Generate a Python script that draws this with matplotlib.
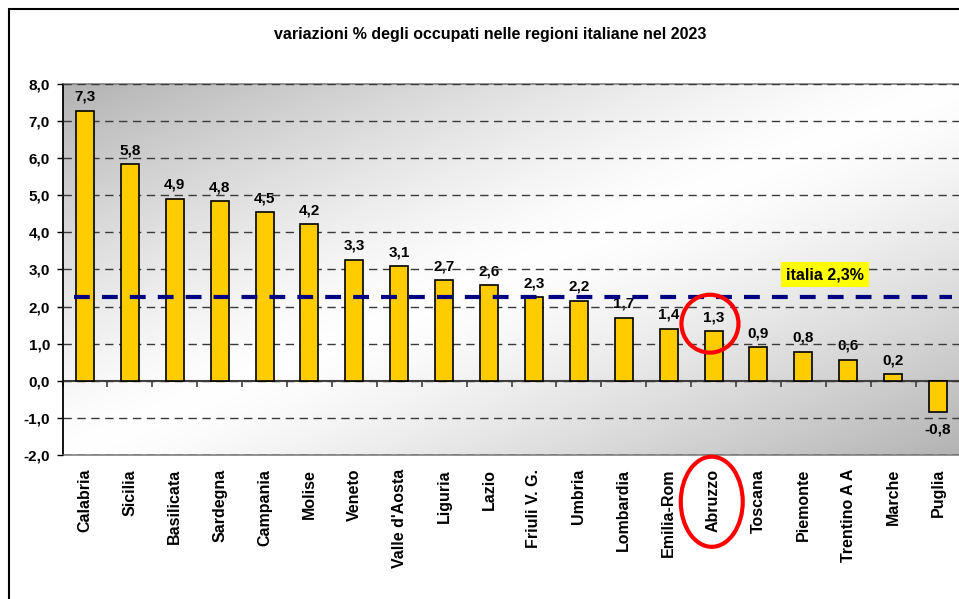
import numpy as np
import matplotlib
matplotlib.use("Agg")
from matplotlib import pyplot as plt
from matplotlib.patches import Ellipse, Rectangle
from matplotlib.ticker import FuncFormatter

# data
regioni = ['Calabria', 'Sicilia', 'Basilicata', 'Sardegna', 'Campania', 'Molise',
           'Veneto', "Valle d'Aosta", 'Liguria', 'Lazio', 'Friuli V. G.', 'Umbria',
           'Lombardia', 'Emilia-Rom', 'Abruzzo', 'Toscana', 'Piemonte',
           'Trentino A A', 'Marche', 'Puglia']
variazioni = [7.28, 5.84, 4.91, 4.84, 4.54, 4.22, 3.26, 3.09, 2.71, 2.57,
              2.26, 2.16, 1.70, 1.40, 1.34, 0.90, 0.78, 0.57, 0.18, -0.83]
italia = 2.27
italia_label = 'italia 2,3%'
evidenziata = 'Abruzzo'

plt.rcParams['font.family'] = ['Liberation Sans', 'DejaVu Sans']
plt.rcParams['font.weight'] = 'bold'

fig = plt.figure(figsize=(9.59, 5.99), dpi=100)
ax = fig.add_axes([62.5 / 959, 1 - 455 / 599, 898 / 959, 371 / 599])

# background gradient: dark top-left and bottom-right, light across the middle
u, v = np.meshgrid(np.linspace(0, 1, 400), np.linspace(0, 1, 200))
t = np.abs((u + v) / 2 - 0.5) * 2
g = 1 - 0.30 * t ** 1.3
ax.imshow(np.dstack([g, g, g]), extent=[0, 1, 0, 1], origin='upper',
          transform=ax.transAxes, aspect='auto', zorder=0, interpolation='bilinear')

x = np.arange(len(regioni))
ax.set_xlim(-0.5, len(regioni) - 0.5)
ax.set_ylim(-2, 8)

# gridlines
ax.set_yticks(np.arange(-2, 9, 1))
ax.yaxis.grid(True, color='#3a3a3a', lw=1, linestyle=(0, (6, 4)))
ax.set_axisbelow(False)
for gl in ax.get_ygridlines():
    gl.set_zorder(2)

ax.bar(x, variazioni, width=0.40, color='#FFCC00', edgecolor='black', lw=1.2, zorder=3)

for xi, val in zip(x, variazioni):
    lab = f'{val:.1f}'.replace('.', ',')
    if val >= 0:
        ax.annotate(lab, (xi, val), xytext=(0, 5), textcoords='offset points',
                    ha='center', va='bottom', fontsize=11, fontweight='bold', zorder=1.5)
    else:
        ax.annotate(lab, (xi, val), xytext=(0, -8), textcoords='offset points',
                    ha='center', va='top', fontsize=11, fontweight='bold', zorder=1.5)

# media italia
ax.plot([-0.245, len(regioni) - 0.69], [italia, italia], color='#000080', lw=3,
        dashes=(3.8, 2.9), zorder=4, dash_capstyle='butt')
ax.text(16.48, 2.86, italia_label, ha='center', va='center', fontsize=11.5,
        fontweight='bold', zorder=5,
        bbox=dict(boxstyle='square,pad=0.3', facecolor='#FFFF00', edgecolor='none'))

# spines
ax.spines['right'].set_visible(False)
ax.spines['left'].set_color('black')
ax.spines['left'].set_linewidth(1.3)
ax.spines['top'].set_color('#808080')
ax.spines['bottom'].set_color('#808080')
ax.spines['top'].set_linewidth(1.2)
ax.spines['bottom'].set_linewidth(1.2)

ax.yaxis.set_major_formatter(FuncFormatter(lambda v, p: f'{v:.1f}'.replace('.', ',')))
ax.tick_params(axis='y', length=4, width=1, direction='out', pad=5, labelsize=11)
ax.set_xticks(x)
ax.set_xticklabels(regioni, rotation=90, fontsize=11.5, fontweight='bold')
ax.tick_params(axis='x', length=0, pad=10)

# category axis at zero with boundary ticks
sec = ax.secondary_xaxis(0.2)
sec.set_xticks(np.arange(-0.5, len(regioni), 1))
sec.set_xticklabels([])
sec.tick_params(length=4, width=1.2, direction='out', color='#404040')
sec.spines['bottom'].set_color('#404040')
sec.spines['bottom'].set_linewidth(1.5)

# highlight
idx = regioni.index(evidenziata)
ax.add_patch(Ellipse((idx - 0.08, 1.54), 1.27, 1.56, fill=False, edgecolor='red',
                     lw=3, zorder=6, clip_on=False))
ax.add_patch(Ellipse((idx - 0.04, -3.26), 1.38, 2.43, fill=False, edgecolor='red',
                     lw=3, zorder=6, clip_on=False))

fig.text(0.511, 1 - 35 / 599, 'variazioni % degli occupati nelle regioni italiane nel 2023',
         ha='center', va='center', fontsize=11.5, fontweight='bold')

fig.patches.append(Rectangle((9 / 959, -0.1), 1.2, 1.1 - 9 / 599, transform=fig.transFigure,
                             fill=False, edgecolor='black', lw=1.5))

fig.savefig('out.png', dpi=100)
